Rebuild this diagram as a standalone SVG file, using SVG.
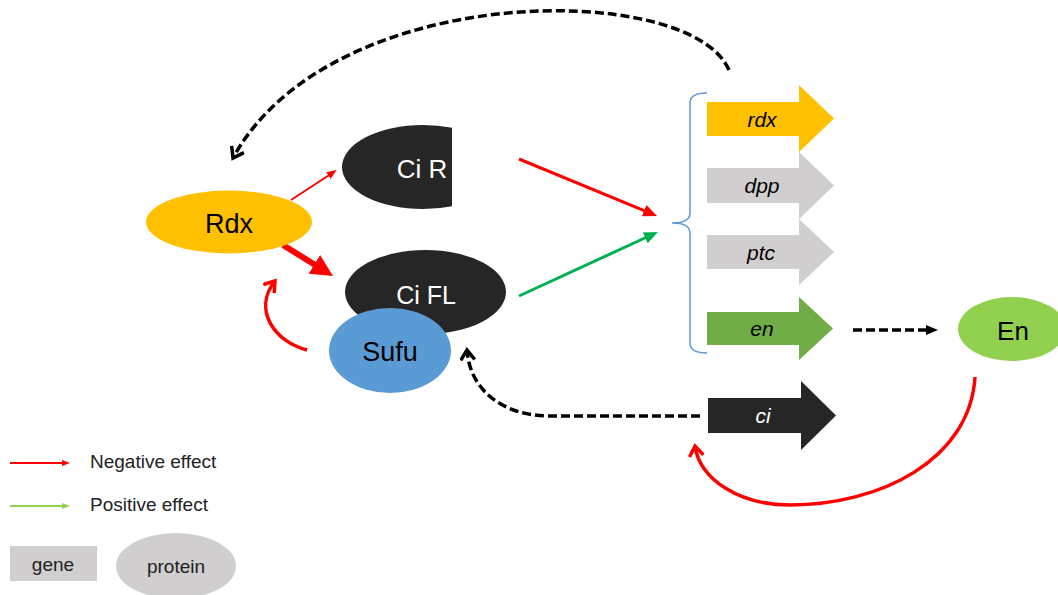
<svg xmlns="http://www.w3.org/2000/svg" width="1058" height="595" viewBox="0 0 1058 595">
<style>
text{font-family:"Liberation Sans",Arial,sans-serif;text-anchor:middle}
.gene{font-size:21px;font-style:italic}
.neg{stroke:#FF0000;fill:none}
.pos{stroke:#00B050;fill:none}
.dash{stroke:#000;fill:none;stroke-width:3.5;stroke-dasharray:9 4}
.leg{font-size:19px;text-anchor:start;fill:#222}
</style>
<defs>
<clipPath id="cutR"><rect x="300" y="100" width="152" height="130"/></clipPath>
<marker id="hRedSm" markerUnits="userSpaceOnUse" markerWidth="10" markerHeight="8" refX="2" refY="4" orient="auto"><path d="M0,0 L10,4 L0,8 Z" fill="#FF0000"/></marker>
<marker id="hRed" markerUnits="userSpaceOnUse" markerWidth="14" markerHeight="12" refX="2" refY="6" orient="auto"><path d="M0,0 L14,6 L0,12 Z" fill="#FF0000"/></marker>
<marker id="hGreen" markerUnits="userSpaceOnUse" markerWidth="14" markerHeight="12" refX="2" refY="6" orient="auto"><path d="M0,0 L14,6 L0,12 Z" fill="#00B050"/></marker>
<marker id="hRedBig" markerUnits="userSpaceOnUse" markerWidth="22" markerHeight="22" refX="2" refY="11" orient="auto"><path d="M0,0 L22,11 L0,22 Z" fill="#FF0000"/></marker>
<marker id="hBlack" markerUnits="userSpaceOnUse" markerWidth="12" markerHeight="10" refX="2" refY="5" orient="auto"><path d="M0,0 L12,5 L0,10 Z" fill="#000"/></marker>
<marker id="cBlack" markerUnits="userSpaceOnUse" markerWidth="16" markerHeight="16" refX="12" refY="8" orient="auto"><path d="M2,1 L12,8 L2,15" fill="none" stroke="#000" stroke-width="3.5"/></marker>
<marker id="cRed" markerUnits="userSpaceOnUse" markerWidth="16" markerHeight="16" refX="12" refY="8" orient="auto"><path d="M2,1 L12,8 L2,15" fill="none" stroke="#FF0000" stroke-width="3.5"/></marker>
<marker id="lRed" markerUnits="userSpaceOnUse" markerWidth="8" markerHeight="6" refX="1" refY="3" orient="auto"><path d="M0,0 L8,3 L0,6 Z" fill="#FF0000"/></marker>
<marker id="lGreen" markerUnits="userSpaceOnUse" markerWidth="8" markerHeight="6" refX="1" refY="3" orient="auto"><path d="M0,0 L8,3 L0,6 Z" fill="#92D050"/></marker>
</defs>
<rect width="1058" height="595" fill="#fff"/>

<g id="connectors">
<path class="dash" d="M729,70 C690,-20 330,-20 233,158" marker-end="url(#cBlack)"/>
<line class="neg" stroke-width="2" x1="291" y1="200" x2="330" y2="174.5" marker-end="url(#hRedSm)"/>
<line class="neg" stroke-width="6" x1="283" y1="245" x2="316" y2="265.5" marker-end="url(#hRedBig)"/>
<path class="neg" stroke-width="3.5" d="M307,350 C275,342 252,310 275,281" marker-end="url(#cRed)"/>
<line class="neg" stroke-width="3" x1="519" y1="159" x2="646" y2="211.4" marker-end="url(#hRed)"/>
<line class="pos" stroke-width="3" x1="519" y1="296" x2="647" y2="237" marker-end="url(#hGreen)"/>
<path class="dash" d="M700,416 L550,416 C505,416 470,392 467,350" marker-end="url(#cBlack)"/>
<line class="dash" x1="853" y1="330" x2="928" y2="330" marker-end="url(#hBlack)"/>
<path class="neg" stroke-width="3.5" d="M975,377 C970,460 880,505 790,505 C740,505 700,480 695,446" marker-end="url(#cRed)"/>
<path d="M707,93 Q690,93 690,103 L690,213 Q690,223 672,223 Q690,223 690,233 L690,343 Q690,353 707,353" fill="none" stroke="#5B9BD5" stroke-width="1.5"/>
</g>

<g id="node-rdx-protein">
<ellipse cx="229" cy="222" rx="83" ry="31.5" fill="#FFC000"/>
<text x="229" y="233" font-size="27" fill="#000">Rdx</text>
</g>
<g id="node-ciR">
<ellipse cx="423" cy="167" rx="81" ry="42" fill="#262626" clip-path="url(#cutR)"/>
<text x="422" y="178" font-size="26" fill="#fff">Ci R</text>
</g>
<g id="node-ciFL">
<ellipse cx="425.5" cy="292" rx="80.5" ry="42" fill="#262626"/>
<text x="426" y="304" font-size="25" fill="#fff">Ci FL</text>
</g>
<g id="node-sufu">
<ellipse cx="390" cy="350.5" rx="61" ry="42.5" fill="#5B9BD5"/>
<text x="390" y="361" font-size="27" fill="#000">Sufu</text>
</g>
<g id="node-En">
<ellipse cx="1012" cy="329" rx="54" ry="32" fill="#92D050"/>
<text x="1013" y="340" font-size="26" fill="#000">En</text>
</g>

<g id="gene-rdx">
<path d="M707,102 L799,102 L799,85 L834,118.5 L799,152 L799,136 L707,136 Z" fill="#FFC000"/>
<text class="gene" x="762" y="127">rdx</text>
</g>
<g id="gene-dpp">
<path d="M707,168 L799,168 L799,152 L834,185.5 L799,219 L799,203 L707,203 Z" fill="#D0CECE"/>
<text class="gene" x="762" y="193">dpp</text>
</g>
<g id="gene-ptc">
<path d="M707,235 L799,235 L799,219 L834,252 L799,285 L799,269 L707,269 Z" fill="#D0CECE"/>
<text class="gene" x="761" y="260">ptc</text>
</g>
<g id="gene-en">
<path d="M707,312 L799,312 L799,297 L833,328.5 L799,360 L799,345 L707,345 Z" fill="#70AD47"/>
<text class="gene" x="762" y="336">en</text>
</g>
<g id="gene-ci">
<path d="M708,398 L801,398 L801,381 L836,415.5 L801,450 L801,433 L708,433 Z" fill="#262626"/>
<text class="gene" x="763" y="423" fill="#fff">ci</text>
</g>

<g id="legend">
<line x1="10" y1="463" x2="63" y2="463" stroke="#FF0000" stroke-width="2" marker-end="url(#lRed)"/>
<text class="leg" x="90" y="468">Negative effect</text>
<line x1="10" y1="506" x2="63" y2="506" stroke="#92D050" stroke-width="2" marker-end="url(#lGreen)"/>
<text class="leg" x="90" y="511">Positive effect</text>
<rect x="10" y="546" width="87" height="35" fill="#D0CECE"/>
<text x="53" y="571" font-size="19" fill="#222">gene</text>
<ellipse cx="176" cy="566" rx="60" ry="33" fill="#D0CECE"/>
<text x="176" y="573" font-size="19" fill="#222">protein</text>
</g>
</svg>
